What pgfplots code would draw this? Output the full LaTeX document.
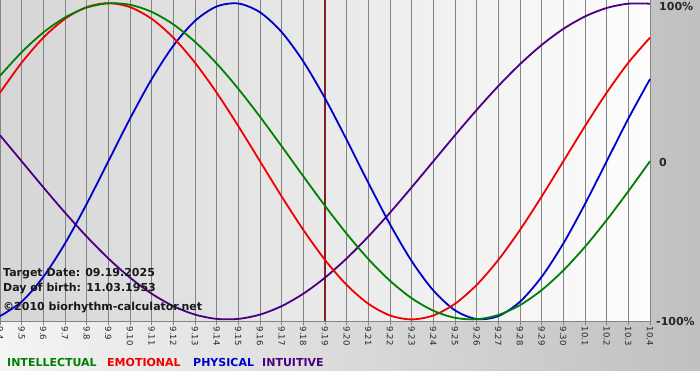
\documentclass[border=0pt]{standalone}
\usepackage{pgfplots}
\usepackage{pgfplotstable}
\pgfplotsset{compat=1.18}
\usepackage{fontspec}
\setmainfont{DejaVu Sans}
\definecolor{bioGreen}{HTML}{008000}
\definecolor{bioRed}{HTML}{F00000}
\definecolor{bioBlue}{HTML}{0000CC}
\definecolor{bioPurple}{HTML}{4B0082}
\definecolor{targetLine}{HTML}{862222}
\definecolor{gridGray}{HTML}{848484}
\definecolor{bgLight}{HTML}{F4F4F4}
\definecolor{bgDark}{HTML}{C0C0C0}
\definecolor{plotLeft}{HTML}{D6D6D6}
\definecolor{plotRight}{HTML}{FDFDFD}

\pgfplotstableread{
d phys emo intel intu
0 -0.9791 0.4339 0.5406 0.1646
1 -0.8879 0.6235 0.6901 0
2 -0.7308 0.7818 0.8146 -0.1646
3 -0.5197 0.9010 0.9096 -0.3247
4 -0.2698 0.9749 0.9718 -0.4759
5 0 1 0.9989 -0.6142
6 0.2698 0.9749 0.9898 -0.7357
7 0.5197 0.9010 0.9450 -0.8372
8 0.7308 0.7818 0.8660 -0.9158
9 0.8879 0.6235 0.7557 -0.9694
10 0.9791 0.4339 0.6182 -0.9966
11 0.9977 0.2225 0.4582 -0.9966
12 0.9423 0 0.2817 -0.9694
13 0.8170 -0.2225 0.0951 -0.9158
14 0.6311 -0.4339 -0.0951 -0.8372
15 0.3984 -0.6235 -0.2817 -0.7357
16 0.1362 -0.7818 -0.4582 -0.6142
17 -0.1362 -0.9010 -0.6182 -0.4759
18 -0.3984 -0.9749 -0.7557 -0.3247
19 -0.6311 -1 -0.8660 -0.1646
20 -0.8170 -0.9749 -0.9450 0
21 -0.9423 -0.9010 -0.9898 0.1646
22 -0.9977 -0.7818 -0.9989 0.3247
23 -0.9791 -0.6235 -0.9718 0.4759
24 -0.8879 -0.4339 -0.9096 0.6142
25 -0.7308 -0.2225 -0.8146 0.7357
26 -0.5197 0 -0.6901 0.8372
27 -0.2698 0.2225 -0.5406 0.9158
28 0 0.4339 -0.3717 0.9694
29 0.2698 0.6235 -0.1893 0.9966
30 0.5197 0.7818 0 0.9966
}\biodata

\begin{document}
\begin{tikzpicture}
\path[use as bounding box] (0pt,0pt) rectangle (700pt,380pt);
\clip (0pt,0pt) rectangle (700pt,380pt);
\fill[white] (0pt,0pt) rectangle (700pt,380pt);
\shade[left color=bgLight, right color=bgDark] (0pt,10pt) rectangle (700pt,380pt);
\begin{axis}[
  at={(0pt,59pt)}, anchor=south west,
  scale only axis, width=650pt, height=321pt,
  xmin=0, xmax=30, ymin=-1.01, ymax=1.02,
  clip=false,
  axis background/.style={shade, left color=plotLeft, right color=plotRight},
  axis x line*=bottom, axis y line=none,
  x axis line style={draw=gridGray, line width=0.8pt},
  xtick={0,...,30},
  xticklabels={9.4,9.5,9.6,9.7,9.8,9.9,9.10,9.11,9.12,9.13,9.14,9.15,9.16,9.17,9.18,9.19,9.20,9.21,9.22,9.23,9.24,9.25,9.26,9.27,9.28,9.29,9.30,10.1,10.2,10.3,10.4},
  xtick pos=left, tick align=outside,
  major tick length=4pt,
  x tick style={draw=gridGray, line width=0.8pt},
  xticklabel style={font=\fontsize{8.5}{9}\selectfont, text=black!85, rotate=-90, anchor=west, inner sep=1.5pt},
  xmajorgrids, grid style={draw=gridGray, line width=0.8pt},
  ytick={0}, yticklabels={}, ymajorgrids,
  y tick style={draw=none},
]
\addplot[targetLine, line width=2.4pt] coordinates {(15,-1.01) (15,1.02)};
\addplot[bioPurple, line width=1.8pt, smooth] table[x=d, y=intu] {\biodata};
\addplot[bioBlue, line width=1.8pt, smooth] table[x=d, y=phys] {\biodata};
\addplot[bioRed, line width=1.8pt, smooth] table[x=d, y=emo] {\biodata};
\addplot[bioGreen, line width=1.8pt, smooth] table[x=d, y=intel] {\biodata};
\end{axis}
\begin{scope}[every node/.style={font=\fontsize{11}{13}\selectfont\bfseries, inner sep=0pt}]
\node[anchor=west, text=black!85] at (659pt,373.5pt) {100\%};
\node[anchor=west, text=black!85] at (659pt,218pt) {0};
\node[anchor=west, text=black!85] at (656pt,59pt) {-100\%};
\node[anchor=base west, text=black!90] at (3pt,104pt) {Target Date: 09.19.2025};
\node[anchor=base west, text=black!90] at (3pt,89pt) {Day of birth: 11.03.1953};
\node[anchor=base west, text=black!90] at (3pt,70pt) {©2010 biorhythm-calculator.net};
\node[anchor=base west, text=bioGreen] at (7pt,14pt) {INTELLECTUAL};
\node[anchor=base west, text=bioRed] at (107pt,14pt) {EMOTIONAL};
\node[anchor=base west, text=bioBlue] at (193pt,14pt) {PHYSICAL};
\node[anchor=base west, text=bioPurple] at (262pt,14pt) {INTUITIVE};
\end{scope}
\end{tikzpicture}
\end{document}
